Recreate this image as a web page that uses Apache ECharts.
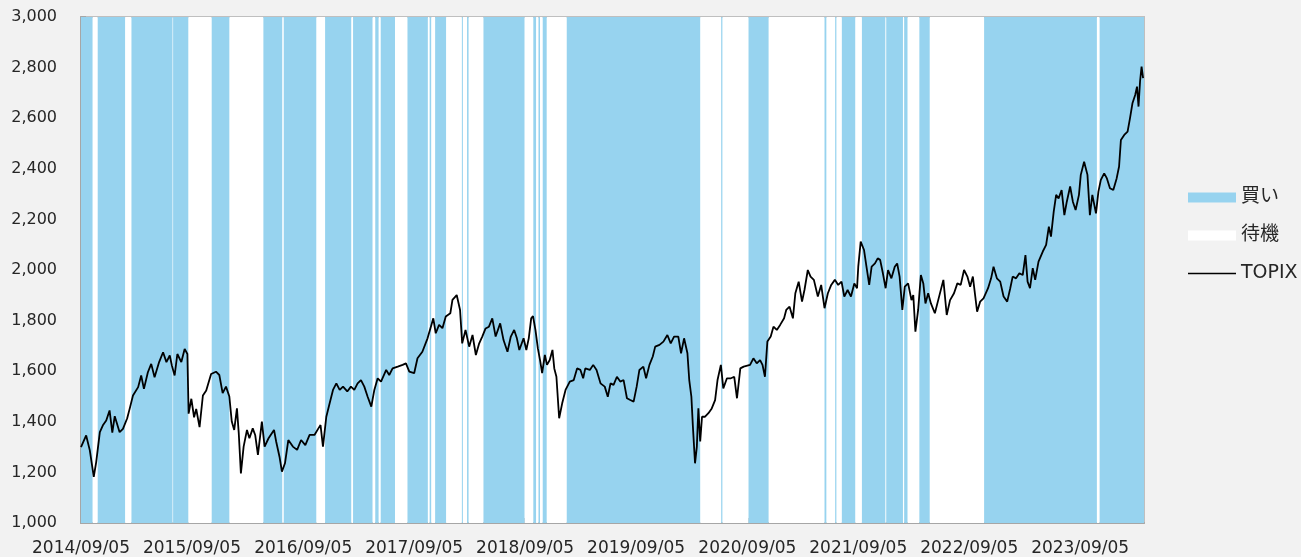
<!DOCTYPE html>
<html>
<head>
<meta charset="utf-8">
<script src="https://cdn.jsdelivr.net/npm/echarts@6/dist/echarts.min.js"></script>
<style>
html, body { margin: 0; padding: 0; background: #f2f2f2; }
#chart { width: 1301px; height: 557px; }
</style>
</head>
<body>
<div id="chart"></div>
<script>
const axisStart = '2014/09/05'
const axisEnd = '2024/04/02'
const tickLabels = ['2014/09/05', '2015/09/05', '2016/09/05', '2017/09/05', '2018/09/05',
  '2019/09/05', '2020/09/05', '2021/09/05', '2022/09/05', '2023/09/05']

// 買い periods (start, end)
const buyPeriods = [
  ['2014/09/05', '2014/10/13'], ['2014/10/30', '2015/01/28'], ['2015/02/18', '2015/07/03'],
  ['2015/07/05', '2015/08/24'], ['2015/11/09', '2016/01/06'], ['2016/04/27', '2016/06/28'],
  ['2016/07/03', '2016/10/18'], ['2016/11/16', '2017/02/10'], ['2017/02/16', '2017/04/21'],
  ['2017/04/30', '2017/05/11'], ['2017/05/18', '2017/07/04'], ['2017/08/14', '2017/10/20'],
  ['2017/10/26', '2017/10/31'], ['2017/11/13', '2017/12/19'], ['2018/02/09', '2018/02/12'],
  ['2018/02/26', '2018/03/03'], ['2018/04/21', '2018/09/03'], ['2018/10/02', '2018/10/11'],
  ['2018/10/19', '2018/10/24'], ['2018/11/02', '2018/11/15'], ['2019/01/20', '2020/04/03'],
  ['2020/06/11', '2020/06/15'], ['2020/09/09', '2020/11/14'], ['2021/05/17', '2021/05/23'],
  ['2021/06/21', '2021/06/25'], ['2021/07/13', '2021/08/26'], ['2021/09/17', '2021/12/03'],
  ['2021/12/06', '2022/01/30'], ['2022/02/03', '2022/02/14'], ['2022/03/25', '2022/04/28'],
  ['2022/10/24', '2023/10/30'], ['2023/11/08', '2024/04/02']
]

const topixDates = [
  '2014/09/05', '2014/09/22', '2014/10/04', '2014/10/17', '2014/10/25', '2014/11/06', '2014/11/16', '2014/11/27',
  '2014/12/08', '2014/12/17', '2014/12/25', '2015/01/10', '2015/01/21', '2015/02/04', '2015/02/12', '2015/02/23',
  '2015/03/12', '2015/03/22', '2015/03/31', '2015/04/13', '2015/04/24', '2015/05/05', '2015/05/20', '2015/06/02',
  '2015/06/13', '2015/06/24', '2015/07/01', '2015/07/10', '2015/07/19', '2015/08/01', '2015/08/12', '2015/08/21',
  '2015/08/25', '2015/09/03', '2015/09/12', '2015/09/19', '2015/09/30', '2015/10/11', '2015/10/22', '2015/11/07',
  '2015/11/23', '2015/12/04', '2015/12/15', '2015/12/26', '2016/01/06', '2016/01/14', '2016/01/22', '2016/01/31',
  '2016/02/06', '2016/02/13', '2016/02/22', '2016/03/04', '2016/03/12', '2016/03/23', '2016/03/31', '2016/04/09',
  '2016/04/22', '2016/05/01', '2016/05/14', '2016/06/01', '2016/06/08', '2016/06/19', '2016/06/27', '2016/07/07',
  '2016/07/18', '2016/08/02', '2016/08/16', '2016/08/29', '2016/09/12', '2016/09/26', '2016/10/12', '2016/10/25',
  '2016/11/01', '2016/11/09', '2016/11/20', '2016/12/01', '2016/12/12', '2016/12/23', '2017/01/03', '2017/01/14',
  '2017/01/28', '2017/02/09', '2017/02/20', '2017/03/03', '2017/03/14', '2017/03/25', '2017/04/05', '2017/04/17',
  '2017/04/27', '2017/05/08', '2017/05/19', '2017/06/05', '2017/06/15', '2017/06/26', '2017/07/13', '2017/07/29',
  '2017/08/09', '2017/08/20', '2017/09/05', '2017/09/16', '2017/10/02', '2017/10/19', '2017/10/30', '2017/11/07',
  '2017/11/15', '2017/11/26', '2017/12/07', '2017/12/18', '2018/01/02', '2018/01/09', '2018/01/23', '2018/02/03',
  '2018/02/10', '2018/02/21', '2018/03/05', '2018/03/16', '2018/03/27', '2018/04/07', '2018/04/17', '2018/04/28',
  '2018/05/09', '2018/05/20', '2018/05/31', '2018/06/15', '2018/06/26', '2018/07/09', '2018/07/20', '2018/07/31',
  '2018/08/09', '2018/08/17', '2018/08/31', '2018/09/09', '2018/09/17', '2018/09/25', '2018/10/01', '2018/10/09',
  '2018/10/17', '2018/10/25', '2018/10/31', '2018/11/09', '2018/11/16', '2018/11/25', '2018/12/04', '2018/12/10',
  '2018/12/17', '2018/12/26', '2019/01/05', '2019/01/16', '2019/01/30', '2019/02/12', '2019/02/23', '2019/03/06',
  '2019/03/15', '2019/03/22', '2019/04/06', '2019/04/17', '2019/04/28', '2019/05/11', '2019/05/25', '2019/06/04',
  '2019/06/13', '2019/06/23', '2019/07/04', '2019/07/15', '2019/07/26', '2019/08/06', '2019/08/17', '2019/08/28',
  '2019/09/07', '2019/09/16', '2019/09/29', '2019/10/08', '2019/10/19', '2019/10/30', '2019/11/07', '2019/11/21',
  '2019/12/04', '2019/12/17', '2019/12/28', '2020/01/08', '2020/01/22', '2020/01/31', '2020/02/10', '2020/02/21',
  '2020/02/27', '2020/03/05', '2020/03/10', '2020/03/17', '2020/03/23', '2020/03/28', '2020/04/03', '2020/04/09',
  '2020/04/19', '2020/04/30', '2020/05/11', '2020/05/22', '2020/05/30', '2020/06/10', '2020/06/18', '2020/06/30',
  '2020/07/13', '2020/07/24', '2020/08/02', '2020/08/13', '2020/08/24', '2020/09/14', '2020/09/25', '2020/10/06',
  '2020/10/17', '2020/10/25', '2020/11/02', '2020/11/10', '2020/11/21', '2020/11/30', '2020/12/11', '2020/12/22',
  '2021/01/04', '2021/01/11', '2021/01/22', '2021/02/02', '2021/02/10', '2021/02/21', '2021/03/04', '2021/03/12',
  '2021/03/23', '2021/04/01', '2021/04/12', '2021/04/25', '2021/05/06', '2021/05/17', '2021/05/28', '2021/06/08',
  '2021/06/20', '2021/07/01', '2021/07/12', '2021/07/21', '2021/08/01', '2021/08/12', '2021/08/23', '2021/09/01',
  '2021/09/05', '2021/09/13', '2021/09/24', '2021/10/02', '2021/10/11', '2021/10/19', '2021/10/30', '2021/11/08',
  '2021/11/16', '2021/11/25', '2021/12/04', '2021/12/12', '2021/12/23', '2022/01/03', '2022/01/11', '2022/01/19',
  '2022/01/28', '2022/02/05', '2022/02/16', '2022/02/27', '2022/03/05', '2022/03/12', '2022/03/21', '2022/03/30',
  '2022/04/07', '2022/04/14', '2022/04/23', '2022/05/02', '2022/05/15', '2022/05/26', '2022/06/12', '2022/06/23',
  '2022/07/04', '2022/07/17', '2022/07/28', '2022/08/08', '2022/08/19', '2022/08/30', '2022/09/08', '2022/09/17',
  '2022/09/25', '2022/10/01', '2022/10/11', '2022/10/22', '2022/11/06', '2022/11/16', '2022/11/24', '2022/12/05',
  '2022/12/16', '2022/12/27', '2023/01/08', '2023/01/18', '2023/01/26', '2023/02/06', '2023/02/17', '2023/02/28',
  '2023/03/09', '2023/03/16', '2023/03/24', '2023/04/02', '2023/04/10', '2023/04/21', '2023/05/05', '2023/05/16',
  '2023/05/25', '2023/06/01', '2023/06/10', '2023/06/18', '2023/06/26', '2023/07/06', '2023/07/15', '2023/07/23',
  '2023/08/03', '2023/08/12', '2023/08/21', '2023/09/01', '2023/09/07', '2023/09/18', '2023/09/29', '2023/10/07',
  '2023/10/15', '2023/10/27', '2023/11/04', '2023/11/12', '2023/11/23', '2023/12/02', '2023/12/12', '2023/12/23',
  '2024/01/03', '2024/01/11', '2024/01/17', '2024/01/28', '2024/02/08', '2024/02/16', '2024/02/24', '2024/03/04',
  '2024/03/10', '2024/03/15', '2024/03/20', '2024/03/25', '2024/03/30'
]
const topixValues = [
  1300, 1346, 1287, 1182, 1241, 1359, 1386, 1405,
  1445, 1357, 1422, 1359, 1372, 1414, 1451, 1504,
  1537, 1583, 1530, 1596, 1629, 1576, 1636, 1675,
  1636, 1662, 1622, 1583, 1668, 1636, 1688, 1668,
  1432, 1491, 1418, 1451, 1379, 1504, 1524, 1589,
  1598, 1585, 1513, 1539, 1500, 1401, 1368, 1453,
  1355, 1196, 1302, 1368, 1335, 1374, 1348, 1269,
  1401, 1302, 1335, 1368, 1322, 1262, 1203, 1236,
  1328, 1302, 1289, 1328, 1308, 1348, 1348, 1374,
  1387, 1302, 1420, 1473, 1526, 1552, 1526, 1539,
  1520, 1539, 1526, 1552, 1565, 1539, 1499, 1460,
  1526, 1572, 1559, 1605, 1585, 1611, 1618, 1625,
  1631, 1598, 1592, 1651, 1677, 1730, 1776, 1809,
  1750, 1783, 1770, 1816, 1829, 1882, 1901, 1842,
  1710, 1763, 1697, 1743, 1664, 1710, 1737, 1769,
  1776, 1809, 1737, 1789, 1723, 1677, 1737, 1763,
  1730, 1684, 1730, 1684, 1730, 1809, 1818, 1763,
  1690, 1638, 1592, 1664, 1625, 1644, 1684, 1611,
  1578, 1414, 1473, 1526, 1559, 1565, 1611, 1605,
  1572, 1611, 1605, 1625, 1605, 1552, 1539, 1499,
  1552, 1546, 1578, 1559, 1565, 1493, 1486, 1480,
  1539, 1605, 1618, 1572, 1625, 1658, 1697, 1704,
  1717, 1743, 1710, 1737, 1737, 1671, 1730, 1671,
  1565, 1499, 1381, 1236, 1302, 1453, 1322, 1420,
  1420, 1434, 1453, 1486, 1565, 1625, 1532, 1572,
  1572, 1578, 1493, 1611, 1618, 1625, 1651, 1631,
  1644, 1625, 1578, 1717, 1737, 1776, 1763, 1783,
  1809, 1842, 1855, 1809, 1908, 1954, 1875, 1921,
  2000, 1974, 1961, 1895, 1941, 1849, 1908, 1941,
  1961, 1941, 1954, 1895, 1921, 1895, 1947, 1928,
  2013, 2112, 2079, 2013, 1941, 2013, 2026, 2046,
  2040, 1987, 1928, 2000, 1967, 2013, 2026, 1974,
  1842, 1934, 1947, 1881, 1901, 1756, 1842, 1980,
  1947, 1868, 1908, 1868, 1829, 1881, 1961, 1822,
  1881, 1908, 1947, 1941, 2000, 1974, 1934, 1974,
  1895, 1835, 1875, 1888, 1928, 1967, 2013, 1967,
  1954, 1895, 1875, 1928, 1974, 1967, 1987, 1980,
  2059, 1954, 1928, 2007, 1961, 2033, 2073, 2099,
  2171, 2132, 2231, 2297, 2283, 2316, 2217, 2270,
  2330, 2270, 2237, 2297, 2376, 2428, 2376, 2217,
  2297, 2224, 2310, 2356, 2382, 2362, 2323, 2316,
  2362, 2409, 2514, 2534, 2547, 2600, 2659, 2692,
  2725, 2646, 2745, 2804, 2758
]

const yMin = 1000
const yMax = 3000

function toTime(s) {
  const p = s.split('/').map(Number)
  return Date.UTC(p[0], p[1] - 1, p[2])
}

const xMin = toTime(axisStart)
const xMax = toTime(axisEnd)
const tickValues = tickLabels.map(toTime)

const buyData = buyPeriods.map(p => [toTime(p[0]), toTime(p[1])])
// 待機 = gaps between buy periods
const waitData = []
let cursor = xMin
buyData.forEach(b => {
  if (b[0] > cursor) waitData.push([cursor, b[0]])
  cursor = Math.max(cursor, b[1])
})
if (cursor < xMax) waitData.push([cursor, xMax])

const lineData = topixDates.map((d, i) => [toTime(d), topixValues[i]])

function bandItem(params, api) {
  const a = api.coord([api.value(0), yMax])
  const b = api.coord([api.value(1), yMin])
  return {
    type: 'rect',
    shape: { x: a[0], y: a[1], width: Math.max(b[0] - a[0], 1), height: b[1] - a[1] },
    style: { fill: api.visual('color') }
  }
}

// plain line legend icon (48 x 10 box, thin bar in the middle)
const lineIcon = 'path://M0,0h0.01v0.01h-0.01z M0,4.2h48v1.6h-48z M47.99,9.99h0.01v0.01h-0.01z'

const font = "'DejaVu Sans', 'Noto Sans CJK JP', sans-serif"
const chart = echarts.init(document.getElementById('chart'))
chart.setOption({
  animation: false,
  backgroundColor: '#f2f2f2',
  textStyle: { fontFamily: font },
  grid: {
    left: 81, right: 157, top: 17, bottom: 34,
    show: true, backgroundColor: '#ffffff', borderColor: '#bfbfbf', borderWidth: 2,
    outerBoundsMode: 'none'
  },
  legend: {
    orient: 'vertical',
    left: 1188,
    top: 188,
    padding: 0,
    itemWidth: 48,
    itemHeight: 10,
    itemGap: 19,
    textStyle: { fontFamily: font, fontSize: 19, color: '#262626' },
    data: [
      { name: '買い', icon: 'rect' },
      { name: '待機', icon: 'rect' },
      { name: 'TOPIX', icon: lineIcon, itemStyle: { color: '#000000', borderWidth: 0 } }
    ]
  },
  xAxis: {
    type: 'value',
    min: xMin,
    max: xMax,
    axisLine: { lineStyle: { color: '#a6a6a6', width: 2 } },
    axisTick: { inside: true, length: 5, customValues: tickValues, lineStyle: { color: '#a6a6a6', width: 2 } },
    axisLabel: {
      customValues: tickValues,
      margin: 17,
      fontSize: 17,
      color: '#262626',
      fontFamily: font,
      hideOverlap: false,
      formatter: v => tickLabels[tickValues.indexOf(v)] || ''
    },
    splitLine: { show: false }
  },
  yAxis: {
    type: 'value',
    min: yMin,
    max: yMax,
    interval: 200,
    axisLine: { show: true, lineStyle: { color: '#a6a6a6', width: 2 } },
    axisTick: { show: true, inside: true, length: 5, lineStyle: { color: '#a6a6a6', width: 2 } },
    axisLabel: {
      margin: 24,
      fontSize: 16,
      color: '#262626',
      fontFamily: font,
      formatter: v => v.toLocaleString('en-US')
    },
    splitLine: { show: false }
  },
  series: [
    {
      name: '待機',
      type: 'custom',
      renderItem: bandItem,
      itemStyle: { color: '#ffffff' },
      encode: { x: [0, 1] },
      clip: true,
      silent: true,
      data: waitData
    },
    {
      name: '買い',
      type: 'custom',
      renderItem: bandItem,
      itemStyle: { color: '#97d3ef' },
      encode: { x: [0, 1] },
      clip: true,
      silent: true,
      data: buyData
    },
    {
      name: 'TOPIX',
      type: 'line',
      symbol: 'none',
      itemStyle: { color: '#000000' },
      lineStyle: { color: '#000000', width: 1.8 },
      z: 5,
      data: lineData
    }
  ]
})
</script>
</body>
</html>
